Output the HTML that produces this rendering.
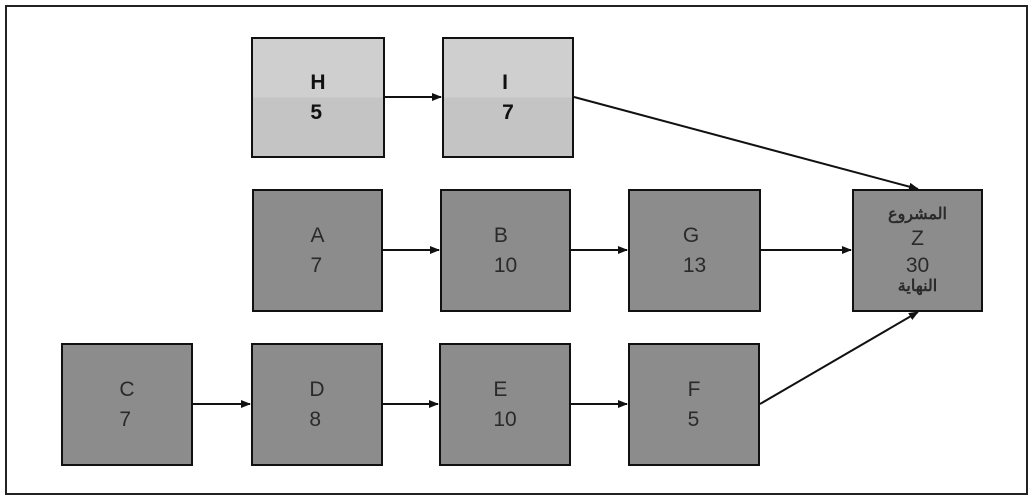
<!DOCTYPE html>
<html><head><style>
body{margin:0;background:#fff;}
.f{position:absolute;left:5px;top:5px;width:1019px;height:486px;border:2px solid #222;}
.b{position:absolute;border:2px solid #111;background:#8c8c8c;color:#2a2a2a;font:21px "Liberation Sans","Noto Sans CJK SC",sans-serif;display:flex;flex-direction:column;justify-content:center;align-items:center;line-height:30px;box-sizing:border-box;}
.l{background:linear-gradient(#cfcfcf 0 50%,#c4c4c4 50%);color:#111;font-weight:bold;}
.ar{font-size:16px;line-height:18px;font-weight:bold;}
</style></head><body>
<div class="f"></div>
<div class="b l" style="left:251px;top:37px;width:134px;height:121px">H<br>5</div>
<div class="b l" style="left:442px;top:37px;width:132px;height:121px">I<br>7</div>
<div class="b" style="left:252px;top:189px;width:131px;height:123px">A<br>7</div>
<div class="b" style="left:440px;top:189px;width:131px;height:123px">B<br>10</div>
<div class="b" style="left:628px;top:189px;width:133px;height:123px">G<br>13</div>
<div class="b" style="left:852px;top:189px;width:131px;height:123px"><span class="ar">المشروع</span><span>Z</span><span style="line-height:24px">30</span><span class="ar">النهاية</span></div>
<div class="b" style="left:61px;top:343px;width:132px;height:123px">C<br>7</div>
<div class="b" style="left:251px;top:343px;width:132px;height:123px">D<br>8</div>
<div class="b" style="left:439px;top:343px;width:132px;height:123px">E<br>10</div>
<div class="b" style="left:628px;top:343px;width:132px;height:123px">F<br>5</div>
<svg width="1030" height="499" style="position:absolute;left:0;top:0">
<defs><marker id="m" markerWidth="10" markerHeight="8" refX="9" refY="4" orient="auto" markerUnits="userSpaceOnUse"><path d="M0,0L10,4L0,8z" fill="#111"/></marker></defs>
<g stroke="#111" stroke-width="2" marker-end="url(#m)">
<line x1="385" y1="97" x2="441" y2="97"/>
<line x1="383" y1="250" x2="439" y2="250"/>
<line x1="571" y1="250" x2="627" y2="250"/>
<line x1="761" y1="250" x2="851" y2="250"/>
<line x1="193" y1="404" x2="250" y2="404"/>
<line x1="383" y1="404" x2="438" y2="404"/>
<line x1="571" y1="404" x2="627" y2="404"/>
<line x1="574" y1="97" x2="918" y2="189"/>
<line x1="760" y1="404" x2="918" y2="312"/>
</g></svg>
</body></html>
